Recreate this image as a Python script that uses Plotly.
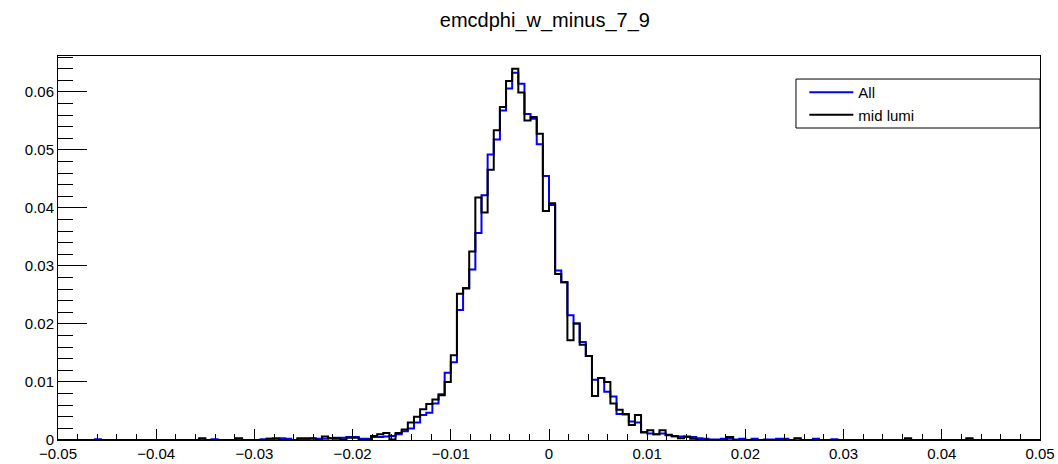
import numpy as np
import plotly.graph_objects as go

# 160 bins from -0.05 to 0.05
x_min, x_max, n_bins = -0.05, 0.05, 160

all_vals = [
    0, 0, 0, 0, 0, 0, 0.00015, 0, 0, 0,
    0, 0, 0, 0, 0, 0, 0, 0, 0, 0,
    0, 0, 0, 0.00015, 0, 0.00015, 0, 0, 0, 0,
    0, 0, 0, 0.00015, 0.0002, 0.0003, 0.0003, 0.0002, 0, 0.00015,
    0.00015, 0.0002, 0.0002, 0.0002, 0.0003, 0.0004, 0.0004, 0.0005, 0.0005, 0.0002,
    0.0002, 0.0005, 0.0005, 0.0006, 0.0007, 0.0010, 0.0015, 0.0020, 0.0030, 0.0043,
    0.0047, 0.0063, 0.0079, 0.0116, 0.0134, 0.0224, 0.0262, 0.0294, 0.0357, 0.0422,
    0.0492, 0.0518, 0.0568, 0.0606, 0.0633, 0.0614, 0.0562, 0.0554, 0.0510, 0.0455,
    0.0405, 0.0292, 0.0272, 0.0215, 0.0201, 0.0169, 0.0145, 0.0104, 0.0107, 0.0083,
    0.0075, 0.0045, 0.0044, 0.0032, 0.0030, 0.0014, 0.0011, 0.0010, 0.0011, 0.0008,
    0.0006, 0.0006, 0.0005, 0.0005, 0.0003, 0.0002, 0.0001, 0.0001, 0.0002, 0.0002,
    0.0001, 0.0002, 0, 0.0002, 0, 0.0001, 0.0001, 0.0002, 0.0002, 0,
    0.0002, 0, 0, 0.0002, 0, 0, 0.00015, 0, 0, 0,
    0, 0, 0, 0, 0, 0, 0, 0, 0.00015, 0,
    0, 0, 0, 0, 0, 0, 0, 0, 0.00015, 0,
    0, 0, 0, 0, 0, 0, 0, 0, 0, 0,
]

mid_lumi_vals = [
    0, 0, 0, 0, 0, 0, 0, 0, 0, 0,
    0, 0, 0, 0, 0, 0, 0, 0, 0, 0,
    0, 0, 0, 0.0003, 0, 0, 0, 0, 0, 0.0003,
    0, 0, 0, 0, 0.0002, 0.0002, 0, 0, 0, 0.0003,
    0.0003, 0.0003, 0, 0.0006, 0.0003, 0.0002, 0.0001, 0.0004, 0.0004, 0,
    0, 0.0007, 0.0010, 0.0012, 0.0001, 0.0012, 0.0018, 0.0030, 0.0040, 0.0053,
    0.0062, 0.0070, 0.0077, 0.0100, 0.0146, 0.0252, 0.0261, 0.0325, 0.0418, 0.0392,
    0.0466, 0.0534, 0.0574, 0.0619, 0.0640, 0.0599, 0.0551, 0.0557, 0.0528, 0.0395,
    0.0408, 0.0286, 0.0272, 0.0172, 0.0201, 0.0164, 0.0145, 0.0076, 0.0107, 0.0100,
    0.0063, 0.0052, 0.0045, 0.0026, 0.0043, 0.0013, 0.0017, 0.0010, 0.0017, 0.0009,
    0.0007, 0.0003, 0.0006, 0.0002, 0, 0, 0, 0, 0, 0.0005,
    0, 0, 0, 0, 0, 0, 0, 0, 0, 0,
    0.0003, 0, 0, 0, 0, 0, 0, 0, 0, 0,
    0, 0, 0, 0, 0, 0, 0, 0, 0.0003, 0,
    0, 0, 0, 0, 0, 0, 0, 0, 0.0003, 0,
    0, 0, 0, 0, 0, 0, 0, 0, 0, 0,
]

series_names = ["All", "mid lumi"]
series_colors = ["#0000ff", "#000000"]

x_tick_vals = [-0.05, -0.04, -0.03, -0.02, -0.01, 0, 0.01, 0.02, 0.03, 0.04, 0.05]
x_tick_text = ["\u22120.05", "\u22120.04", "\u22120.03", "\u22120.02", "\u22120.01", "0",
               "0.01", "0.02", "0.03", "0.04", "0.05"]
y_tick_vals = [0, 0.01, 0.02, 0.03, 0.04, 0.05, 0.06]
y_tick_text = ["0", "0.01", "0.02", "0.03", "0.04", "0.05", "0.06"]

edges = np.linspace(x_min, x_max, n_bins + 1)


def step_xy(vals):
    xs = list(edges[:-1]) + [edges[-1]]
    ys = list(vals) + [vals[-1]]
    return xs, ys


fig = go.Figure()
for name, vals, col in zip(series_names, [all_vals, mid_lumi_vals], series_colors):
    xs, ys = step_xy(vals)
    fig.add_trace(go.Scatter(
        x=xs, y=ys, mode="lines", name=name, legendgroup=name,
        line=dict(color=col, width=2, shape="hv"),
    ))

fig.update_layout(
    width=1058, height=464,
    margin=dict(l=58, r=18, t=56, b=24, autoexpand=False),
    paper_bgcolor="white", plot_bgcolor="white",
    font=dict(family="Liberation Sans, Arial, Helvetica, sans-serif", size=15, color="black"),
    title=dict(text="emcdphi_w_minus_7_9", x=0.515, xanchor="center", y=0.957, yanchor="middle",
               font=dict(size=20)),
    showlegend=True,
    legend=dict(x=0.760, y=0.948, xanchor="left", yanchor="top",
                bgcolor="rgba(0,0,0,0)", borderwidth=0,
                font=dict(size=15), itemwidth=44, tracegroupgap=0),
    shapes=[dict(type="rect", xref="paper", yref="paper",
                 x0=0.7515, x1=1.0, y0=0.8125, y1=0.940,
                 line=dict(color="black", width=1), fillcolor="white", layer="above")],
)

fig.update_xaxes(
    range=[x_min, x_max], tickvals=x_tick_vals, ticktext=x_tick_text,
    ticks="inside", ticklen=11, tickwidth=1,
    tickcolor="black", showgrid=False, zeroline=False, showline=True, linecolor="black",
    linewidth=1, mirror=True, automargin=False,
    minor=dict(ticks="inside", ticklen=6, dtick=0.002, tick0=0, tickcolor="black", showgrid=False),
)
fig.update_yaxes(
    range=[0, 0.0662], tickvals=y_tick_vals, ticktext=y_tick_text,
    ticks="inside", ticklen=29, tickwidth=1,
    tickcolor="black", showgrid=False, zeroline=False, showline=True, linecolor="black",
    linewidth=1, mirror=True, automargin=False,
    minor=dict(ticks="inside", ticklen=15, dtick=0.002, tick0=0, tickcolor="black", showgrid=False),
)

fig.write_html("out.html")
